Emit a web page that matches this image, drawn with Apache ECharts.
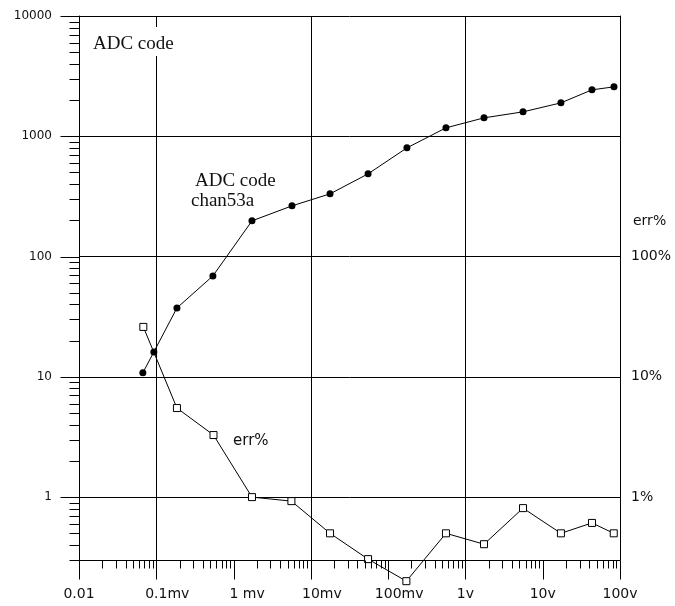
<!DOCTYPE html>
<html><head><meta charset="utf-8">
<script src="https://cdn.jsdelivr.net/npm/echarts@6/dist/echarts.min.js"></script>
<style>html,body{margin:0;padding:0;background:#fff}#c{width:675px;height:606px}</style>
</head><body><div id="c"></div>
<script>
// ADC code, chan53a (x in mV)
const adcX = [0.067, 0.093, 0.185, 0.54, 1.73, 5.7, 17.7, 55, 175, 560, 1740, 5560, 17200, 43400, 83600];
const adcY = [10.8, 16.1, 37.4, 69, 198, 264, 332, 487, 801, 1175, 1423, 1596, 1896, 2432, 2577];
// err% (x in mV)
const errX = [0.068, 0.185, 0.55, 1.73, 5.6, 17.7, 55, 172, 560, 1740, 5560, 17200, 43400, 83000];
const errY = [26, 5.5, 3.28, 1.0, 0.926, 0.50, 0.305, 0.20, 0.50, 0.406, 0.81, 0.50, 0.61, 0.50];
// axis ticks / labels
const xTickLabels = ['0.01', '0.1mv', '1 mv', '10mv', '100mv', '1v', '10v', '100v'];
const xDecadeExp = [-2, -1, 0, 1, 2, 3, 4, 5];
const yLeftLabelExp = [0, 1, 2, 3, 4];
const yRightLabels = ['1%', '10%', '100%'];
const vGridValues = [0.1, 10, 1000];
const xMin = 0.01, xMax = 100000, yMin = 0.3, yMax = 10000;

function isDecade(v) { const l = Math.log10(v); return Math.abs(l - Math.round(l)) < 1e-6; }

// tick values (major = decade, minor = 2..9 multiples)
const tickData = [];
for (let e = -1; e <= 4; e++) {
  for (let m = 1; m <= 9; m++) {
    const v = +(m * Math.pow(10, e)).toPrecision(6);
    if (v >= yMin - 1e-9 && v <= yMax + 1e-9) tickData.push([xMin, v, 0, m === 1 ? 1 : 0]);
  }
}
for (let e = -2; e <= 5; e++) {
  for (let m = 1; m <= 9; m++) {
    const v = +(m * Math.pow(10, e)).toPrecision(6);
    if (v >= xMin - 1e-12 && v <= xMax + 1e-9) tickData.push([v, yMin, 1, m === 1 ? 1 : 0]);
  }
}

function renderTick(params, api) {
  const kind = api.value(2), major = api.value(3);
  const p = api.coord([api.value(0), api.value(1)]);
  const px = Math.round(p[0]) + 0.5, py = Math.round(p[1]) + 0.5;
  let x2 = px, y2 = py;
  if (kind === 0) x2 = px - (major ? 19 : 10);
  else y2 = py + (major ? 19 : 8);
  return { type: 'line', shape: { x1: px, y1: py, x2: x2, y2: y2 }, style: { stroke: '#000', lineWidth: 1 } };
}

const chart = echarts.init(document.getElementById('c'), null, { renderer: 'canvas' });
const labelFont = { fontFamily: 'DejaVu Sans', color: '#111' };
chart.setOption({
  animation: false,
  backgroundColor: '#fff',
  grid: { left: 79, right: 55, top: 16, bottom: 46 },
  xAxis: {
    type: 'log', logBase: 10, min: xMin, max: xMax,
    axisLine: { show: true, lineStyle: { color: '#000', width: 1 } },
    axisTick: { show: false },
    splitLine: { show: false },
    minorTick: { show: false },
    axisLabel: Object.assign({
      fontSize: 14, margin: 27,
      showMinLabel: true, showMaxLabel: true,
      rich: {
        a: { width: 22, fontSize: 14 },
        b: { width: 27, fontSize: 14 },
        t: { fontSize: 14, fontFamily: 'DejaVu Sans', color: '#111' }
      },
      formatter: function (v) {
        if (!isDecade(v)) return '';
        const i = xDecadeExp.indexOf(Math.round(Math.log10(v)));
        if (i < 0) return '';
        const s = xTickLabels[i];
        if (s.endsWith(' mv')) return '{b| }{t|' + s + '}';
        if (s.endsWith('mv')) return '{a| }{t|' + s + '}';
        return '{t|' + s + '}';
      }
    }, labelFont)
  },
  yAxis: [{
    type: 'log', logBase: 10, min: yMin, max: yMax, position: 'left',
    axisLine: { show: true, onZero: false, lineStyle: { color: '#000', width: 1 } },
    axisTick: { show: false },
    splitLine: { show: true, lineStyle: { color: '#000', width: 1 } },
    axisLabel: Object.assign({
      fontSize: 12, margin: 27,
      showMinLabel: true, showMaxLabel: true,
      formatter: function (v) {
        if (!isDecade(v)) return '';
        const e = Math.round(Math.log10(v));
        return yLeftLabelExp.indexOf(e) >= 0 ? String(Math.pow(10, e)) : '';
      }
    }, labelFont)
  }, {
    type: 'log', logBase: 10, min: yMin, max: yMax, position: 'right',
    axisLine: { show: true, onZero: false, lineStyle: { color: '#000', width: 1 } },
    axisTick: { show: false },
    splitLine: { show: false },
    axisLabel: Object.assign({
      fontSize: 14, margin: 11,
      formatter: function (v) {
        if (!isDecade(v)) return '';
        const e = Math.round(Math.log10(v));
        return (e >= 0 && e < yRightLabels.length) ? yRightLabels[e] : '';
      }
    }, labelFont)
  }],
  series: [{
    type: 'custom', name: 'ticks', silent: true, clip: false,
    renderItem: renderTick, data: tickData, z: 5
  }, {
    type: 'line', name: 'ADC code chan53a',
    data: adcX.map((x, i) => [x, adcY[i]]),
    symbol: 'circle', symbolSize: 7, showAllSymbol: true, clip: false,
    itemStyle: { color: '#000' },
    lineStyle: { color: '#000', width: 1 },
    z: 3,
    markLine: {
      silent: true, symbol: ['none', 'none'], animation: false,
      label: { show: false },
      lineStyle: { color: '#000', width: 1, type: 'solid' },
      data: vGridValues.map(v => ({ xAxis: v }))
    }
  }, {
    type: 'line', name: 'err%',
    data: errX.map((x, i) => [x, errY[i]]),
    symbol: 'rect', symbolSize: 7, showAllSymbol: true, clip: false,
    itemStyle: { color: '#fff', borderColor: '#000', borderWidth: 1 },
    lineStyle: { color: '#000', width: 1 },
    z: 4
  }],
  graphic: [
    { type: 'text', z: 100, left: 90, top: 27,
      style: { text: 'ADC code', font: '19px "Liberation Serif"', fill: '#111', backgroundColor: '#fff', padding: [8, 4, 2, 3] } },
    { type: 'text', z: 100, left: 195, top: 172,
      style: { text: 'ADC code', font: '19px "Liberation Serif"', fill: '#111' } },
    { type: 'text', z: 100, left: 191, top: 192,
      style: { text: 'chan53a', font: '19px "Liberation Serif"', fill: '#111' } },
    { type: 'text', z: 100, left: 233, top: 434,
      style: { text: 'err%', font: '15px "DejaVu Sans"', fill: '#111' } },
    { type: 'text', z: 100, left: 633, top: 214,
      style: { text: 'err%', font: '14px "DejaVu Sans"', fill: '#111' } }
  ]
});
</script></body></html>
